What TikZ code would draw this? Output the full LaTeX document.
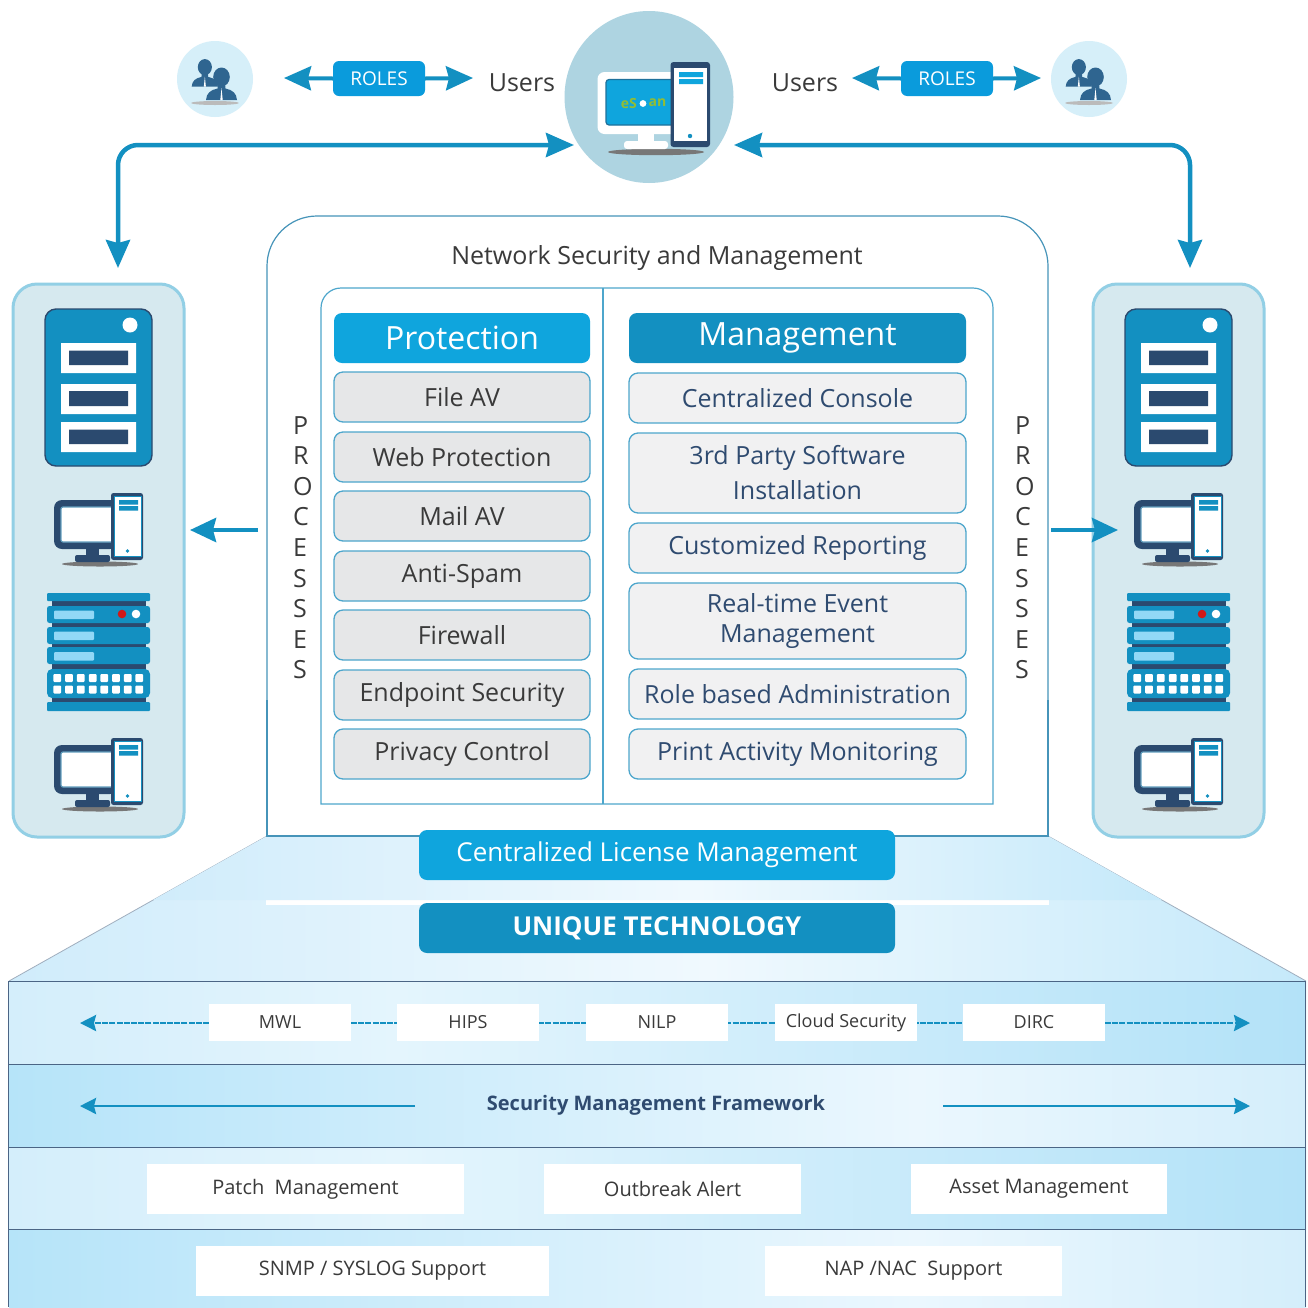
\documentclass[tikz,border=0pt]{standalone}
\usepackage{fontspec}
\setmainfont{Open Sans}
\usetikzlibrary{arrows.meta,shapes.geometric}
\definecolor{cdark}{HTML}{2B4A6F}
\definecolor{cblue}{HTML}{1390C1}
\definecolor{cbright}{HTML}{0FA5DD}
\definecolor{croles}{HTML}{0A9BDC}
\definecolor{cline}{HTML}{4DA6CC}
\definecolor{cbig}{HTML}{AED4E1}
\definecolor{csmall}{HTML}{D6EFF9}
\definecolor{cpanel}{HTML}{D6E9EF}
\definecolor{cpanelb}{HTML}{92CFE5}
\definecolor{cgreyA}{HTML}{E6E7E8}
\definecolor{cgreyB}{HTML}{F1F1F2}
\definecolor{ctext}{HTML}{3A3A3A}
\definecolor{cnavy}{HTML}{2F4B70}
\definecolor{cperson}{HTML}{2F6590}
\definecolor{cshadow}{HTML}{777777}
\definecolor{clight}{HTML}{92D8F6}
\definecolor{bA}{HTML}{D4EEFB}
\definecolor{bB}{HTML}{E4F5FD}
\definecolor{bC}{HTML}{B3E2F8}
\definecolor{bD}{HTML}{B6E4F9}
\definecolor{bE}{HTML}{EBF7FE}
\definecolor{tA}{HTML}{D0ECFB}
\definecolor{tB}{HTML}{F0F9FE}
\definecolor{tC}{HTML}{C5E9FA}
\pgfdeclarehorizontalshading{bandA}{100bp}{color(0bp)=(bA); color(25bp)=(bA); color(40bp)=(bB); color(75bp)=(bC); color(100bp)=(bC)}
\pgfdeclarehorizontalshading{bandB}{100bp}{color(0bp)=(bD); color(25bp)=(bD); color(60bp)=(bE); color(75bp)=(bA); color(100bp)=(bA)}
\pgfdeclarehorizontalshading{trapz}{100bp}{color(0bp)=(tA); color(25bp)=(tA); color(52bp)=(tB); color(75bp)=(tC); color(100bp)=(tC)}
\newcommand\fs[1]{\fontsize{#1}{#1}\selectfont}
\newcommand\bx[7]{\node[#6,minimum width={#4-#2},minimum height={#5-#3}] (#1) at ({(#2+#4)/2},{(#3+#5)/2}) {#7};}
\newcommand\deskicon[2]{\begin{scope}[shift={(#1,#2)}]
 \fill[cshadow] (100,564) ellipse [x radius=38,y radius=2.5];
 \fill[cdark] (86,548) rectangle (99,557);
 \fill[cdark,rounded corners=2pt] (75,555) rectangle (110,562);
 \fill[cdark,rounded corners=8pt] (54,500) rectangle (118,549);
 \filldraw[fill=white,draw=cdark!40!cblue!70!white,line width=1.2pt,rounded corners=2pt] (61,507) rectangle (118,542);
 \fill[cdark,rounded corners=2.5pt] (111,493) rectangle (143,560);
 \filldraw[fill=white,draw=cblue,line width=1pt] (114,496.5) rectangle (141,556.5);
 \fill[cblue] (119,500) rectangle (138,504.5) (119,506) rectangle (138,510.5);
 \fill[cblue] (127.5,551) circle [radius=1.8];
\end{scope}}
\newcommand\servericon[1]{\begin{scope}[shift={(#1,0)}]
 \filldraw[fill=cblue,draw=cdark,line width=1.4pt,rounded corners=11pt] (45,309) rectangle (152,466);
 \fill[white] (130,325) circle [radius=7.5];
 \fill[white] (61,343) rectangle (136,373) (61,384) rectangle (136,414) (61,422) rectangle (136,452);
 \fill[cdark] (69,350.5) rectangle (128,365) (69,391) rectangle (128,406) (69,429.5) rectangle (128,444);
\end{scope}}
\newcommand\rackicon[1]{\begin{scope}[shift={(#1,0)}]
 \fill[cdark] (52,600) rectangle (146,703);
 \fill[cblue,rounded corners=1pt] (47,593) rectangle (150,601);
 \fill[cblue,rounded corners=2.5pt] (47,606) rectangle (150,623) (47,627) rectangle (150,644) (47,647) rectangle (150,664);
 \fill[cblue,rounded corners=5pt] (47,669) rectangle (150,698);
 \fill[cblue,rounded corners=1pt] (47,702) rectangle (150,711);
 \fill[clight,rounded corners=1pt] (54,610.5) rectangle (94,619) (54,631.5) rectangle (94,640) (54,652) rectangle (94,660.5);
 \fill[red!80!black!90!white] (122,614) circle [radius=4.3];
 \fill[white] (136,614) circle [radius=4.3];
 \foreach \qx in {57.3,69,80.7,92.7,104.3,116,127.7,139.3}{
  \fill[white,rounded corners=1pt] (\qx-3.9,674) rectangle (\qx+3.9,682);
  \fill[white,rounded corners=1pt] (\qx-3.9,685.5) rectangle (\qx+3.9,693.5);}
\end{scope}}
\newcommand\onebody[2]{\begin{scope}[shift={(#1,#2)}]
 \fill[cperson] (0,-9) ellipse [x radius=8.3,y radius=9.5];
 \fill[cperson] (-3.5,-2) -- (-4,2.5) .. controls (-11,4) and (-15,7) .. (-15.5,14) -- (15.5,14) .. controls (15,7) and (11,4) .. (4,2.5) -- (3.5,-2) -- cycle;
 \fill[white] (0,2) -- (-1.2,14) -- (1.2,14) -- cycle;
\end{scope}}
\newcommand\personicon[1]{\begin{scope}[shift={(#1,0)}]
 \fill[cshadow!50!white] (215,103) ellipse [x radius=24,y radius=2];
 \begin{scope}[scale=0.85]\onebody{241}{88}\end{scope}
 \onebody{221.5}{86}
\end{scope}}
\tikzset{
 bigarrow/.style={draw=cblue,line width=4.5pt,{Stealth[length=28pt,width=24pt,inset=3pt]}-{Stealth[length=28pt,width=24pt,inset=3pt]}},
 midarrow/.style={draw=cblue,line width=4.5pt,-{Stealth[length=26pt,width=24pt,inset=3pt]}},
 rolearrow/.style={draw=cblue,line width=4pt,-{Stealth[length=27pt,width=24pt,inset=3pt]}},
 thinarrow/.style={draw=cblue,line width=2.6pt,-{Stealth[length=16pt,width=16pt,inset=2pt]}},
 rolebox/.style={fill=croles,rounded corners=6pt,text=white,inner sep=0pt,font=\fs{19}},
 usertext/.style={text=ctext,font=\fs{25},inner sep=0pt},
 headA/.style={fill=cbright,rounded corners=8pt,text=white,inner sep=0pt,font=\fs{32}},
 headB/.style={fill=cblue,rounded corners=8pt,text=white,inner sep=0pt,font=\fs{32}},
 itemA/.style={draw=cline,line width=1.3pt,fill=cgreyA,rounded corners=9pt,text=ctext,inner sep=0pt,font=\fs{25}},
 itemB/.style={draw=cline,line width=1.3pt,fill=cgreyB,rounded corners=9pt,text=cnavy,inner sep=0pt,align=center,font=\fontsize{25}{30}\selectfont},
 barA/.style={fill=cbright,rounded corners=8pt,text=white,inner sep=0pt,font=\fs{26}},
 barB/.style={fill=cblue,rounded corners=8pt,text=white,inner sep=0pt,font=\bfseries\fs{26}},
 whitetag/.style={fill=white,text=ctext,inner sep=0pt,font=\fs{18}},
 whitebox/.style={fill=white,text=ctext,inner sep=0pt,font=\fs{20}},
 band/.style={draw=cdark!85!white,line width=1pt},
}
\begin{document}
\begin{tikzpicture}[x=1pt,y=-1pt]
\useasboundingbox (0,0) rectangle (1308,1307);
\fill[white] (0,0) rectangle (1308,1307);
% top: central circle and user circles
\node[ellipse,fill=cbig,minimum width=169pt,minimum height=172pt,inner sep=0pt] (hub) at (649,97) {};
\node[circle,fill=csmall,minimum size=76pt,inner sep=0pt] (userL) at (215,79) {};
\node[circle,fill=csmall,minimum size=76pt,inner sep=0pt] (userR) at (1089,79) {};
\personicon{0}
\personicon{874}
% hub computer
\fill[cshadow] (656,152) ellipse [x radius=48,y radius=3.2];
\fill[white] (638,132) rectangle (654,143);
\fill[white,rounded corners=3pt] (624,141) rectangle (668,149);
\fill[white,rounded corners=7pt] (597.5,72) rectangle (680,134);
\filldraw[fill=cbright,draw=cdark!45!cblue,line width=1.2pt,rounded corners=3pt] (606,79.5) rectangle (680,125);
\node[text=yellow!60!green!85!black,font=\bfseries\fs{14},inner sep=0pt,anchor=east] (logoA) at (637,103) {eS};
\node[text=yellow!60!green!85!black,font=\bfseries\fs{14},inner sep=0pt,anchor=west] (logoB) at (648.5,103) {an};
\fill[white] (643,103.5) circle [radius=3.4];
\fill[cdark,rounded corners=3pt] (670.5,62) rectangle (710,147);
\fill[white] (673.5,68) rectangle (707,141);
\fill[cbright] (679,72) rectangle (703,77) (679,79) rectangle (703,84);
\fill[cblue] (690,136) circle [radius=2.2];
% roles
\bx{rolesL}{333}{61}{425}{96}{rolebox}{ROLES}
\bx{rolesR}{901}{61}{993}{96}{rolebox}{ROLES}
\coordinate (rLa) at (284,78); \coordinate (rLb) at (473,78);
\coordinate (rRa) at (852,78); \coordinate (rRb) at (1041,78);
\draw[rolearrow] (rolesL.west) -- (rLa);
\draw[rolearrow] (rolesL.east) -- (rLb);
\draw[rolearrow] (rolesR.west) -- (rRa);
\draw[rolearrow] (rolesR.east) -- (rRb);
\node[usertext] (usersL) at (522,83) {Users};
\node[usertext] (usersR) at (805,83) {Users};
% panels
\bx{panelL}{13}{284}{184}{837}{draw=cpanelb,fill=cpanel,line width=3pt,rounded corners=24pt}{}
\bx{panelR}{1093}{284}{1264}{837}{draw=cpanelb,fill=cpanel,line width=3pt,rounded corners=24pt}{}
\coordinate (hubL) at (574,145); \coordinate (hubR) at (734,145);
\coordinate (tipL) at (118,268); \coordinate (tipR) at (1190,268);
\draw[bigarrow,rounded corners=20pt] (tipL) |- (hubL);
\draw[bigarrow,rounded corners=20pt] (tipR) |- (hubR);
\foreach \ox in {0,1080}{
 \servericon{\ox}
 \deskicon{\ox}{0}
 \rackicon{\ox}
 \deskicon{\ox}{245}
}
% trapezoid and bands
\shade[shading=trapz] (267,836) -- (1048,836) -- (1306,981) -- (9,981) -- cycle;
\draw[cdark!45!white,line width=0.8pt] (267,836) -- (9,981) (1048,836) -- (1306,981);
\shade[shading=bandA] (9,981) rectangle (1306,1064);
\shade[shading=bandB] (9,1064) rectangle (1306,1147);
\shade[shading=bandA] (9,1147) rectangle (1306,1229);
\shade[shading=bandB] (9,1229) rectangle (1306,1307);
\draw[band] (8.5,1307) -- (8.5,981) -- (1305.5,981) -- (1305.5,1307);
\draw[band] (9,1064) -- (1306,1064) (9,1147) -- (1306,1147) (9,1229) -- (1306,1229);
% main box
\filldraw[fill=white,draw=cline!80!cdark,line width=1.2pt,rounded corners=50pt] (267,900) -- (267,216) -- (1048,216) -- (1048,900) [sharp corners] -- cycle;
\fill[white] (266,837) rectangle (1049,905);
\shade[shading=trapz] (267,836) -- (1048,836) -- (1162,900) -- (153,900) -- cycle;
\draw[cline!80!cdark,line width=1.2pt] (267,700) -- (267,836) -- (1048,836) -- (1048,700);
\node[text=ctext,font=\fs{25},inner sep=0pt] (title) at (657,258) {Network Security and Management};
\filldraw[fill=white,draw=cline,line width=1.2pt,rounded corners=20pt] (321,804) [sharp corners] -- (321,804) [rounded corners=20pt] -- (321,288) -- (993,288) [sharp corners] -- (993,804) -- cycle;
\draw[cline,line width=1.2pt] (603,288) -- (603,804);
\bx{protH}{334}{313}{590}{363}{headA}{Protection}
\bx{mgmtH}{629}{313}{966}{363}{headB}{Management}
\bx{p1}{334}{372}{590}{422}{itemA}{File AV}
\bx{p2}{334}{432}{590}{482}{itemA}{Web Protection}
\bx{p3}{334}{491}{590}{541}{itemA}{Mail AV}
\bx{p4}{334}{551}{590}{601}{itemA}{Anti-Spam}
\bx{p5}{334}{610}{590}{660}{itemA}{Firewall}
\bx{p6}{334}{670}{590}{720}{itemA}{Endpoint Security}
\bx{p7}{334}{729}{590}{779}{itemA}{Privacy Control}
\bx{m1}{629}{373}{966}{423}{itemB}{Centralized Console}
\bx{m2}{629}{433}{966}{513}{itemB}{3rd Party Software\\[5pt]Installation}
\bx{m3}{629}{523}{966}{573}{itemB}{Customized Reporting}
\bx{m4}{629}{583}{966}{659}{itemB}{Real-time Event\\Management}
\bx{m5}{629}{669}{966}{719}{itemB}{Role based Administration}
\bx{m6}{629}{729}{966}{779}{itemB}{Print Activity Monitoring}
\node[anchor=north west,align=left,inner sep=0pt,text=ctext,font=\fontsize{25}{30.6}\selectfont] (procL) at (293,416) {P\\R\\O\\C\\E\\S\\S\\E\\S};
\node[anchor=north west,align=left,inner sep=0pt,text=ctext,font=\fontsize{25}{30.6}\selectfont] (procR) at (1015,416) {P\\R\\O\\C\\E\\S\\S\\E\\S};
\coordinate (oLa) at (258,530); \coordinate (oLb) at (190,530);
\coordinate (oRa) at (1051,530); \coordinate (oRb) at (1118,530);
\draw[midarrow] (oLa) -- (oLb);
\draw[midarrow] (oRa) -- (oRb);
% bars
\bx{lic}{419}{830}{895}{880}{barA}{Centralized License Management}
\bx{uniq}{419}{903}{895}{953}{barB}{UNIQUE TECHNOLOGY}
% band 1
\coordinate (b1L) at (80,1023); \coordinate (b1R) at (1250,1023);
\draw[thinarrow,dash pattern=on 6pt off 1.2pt] (209,1023) -- (b1L);
\draw[thinarrow,dash pattern=on 6pt off 1.2pt] (1105,1023) -- (b1R);
\draw[draw=cblue,line width=2.6pt,dash pattern=on 6pt off 1.2pt] (351,1023) -- (963,1023);
\bx{t1}{209}{1004}{351}{1041}{whitetag}{MWL}
\bx{t2}{397}{1004}{539}{1041}{whitetag}{HIPS}
\bx{t3}{586}{1004}{728}{1041}{whitetag}{NILP}
\bx{t4}{775}{1004}{917}{1041}{whitetag}{Cloud Security}
\bx{t5}{963}{1004}{1105}{1041}{whitetag}{DIRC}
% band 2
\node[text=cnavy,font=\bfseries\fs{20},inner sep=0pt] (smf) at (656,1105) {Security Management Framework};
\coordinate (b2a) at (415,1106); \coordinate (b2b) at (80,1106);
\coordinate (b2c) at (943,1106); \coordinate (b2d) at (1250,1106);
\draw[thinarrow] (b2a) -- (b2b);
\draw[thinarrow] (b2c) -- (b2d);
% band 3 and 4
\bx{w1}{147}{1164}{464}{1214}{whitebox}{Patch\ \ Management}
\bx{w2}{544}{1164}{801}{1214}{whitebox}{Outbreak Alert}
\bx{w3}{911}{1164}{1167}{1214}{whitebox}{Asset Management}
\bx{w4}{196}{1246}{549}{1296}{whitebox}{SNMP / SYSLOG Support}
\bx{w5}{765}{1246}{1062}{1296}{whitebox}{NAP /NAC\ \ Support}
\end{tikzpicture}
\end{document}
